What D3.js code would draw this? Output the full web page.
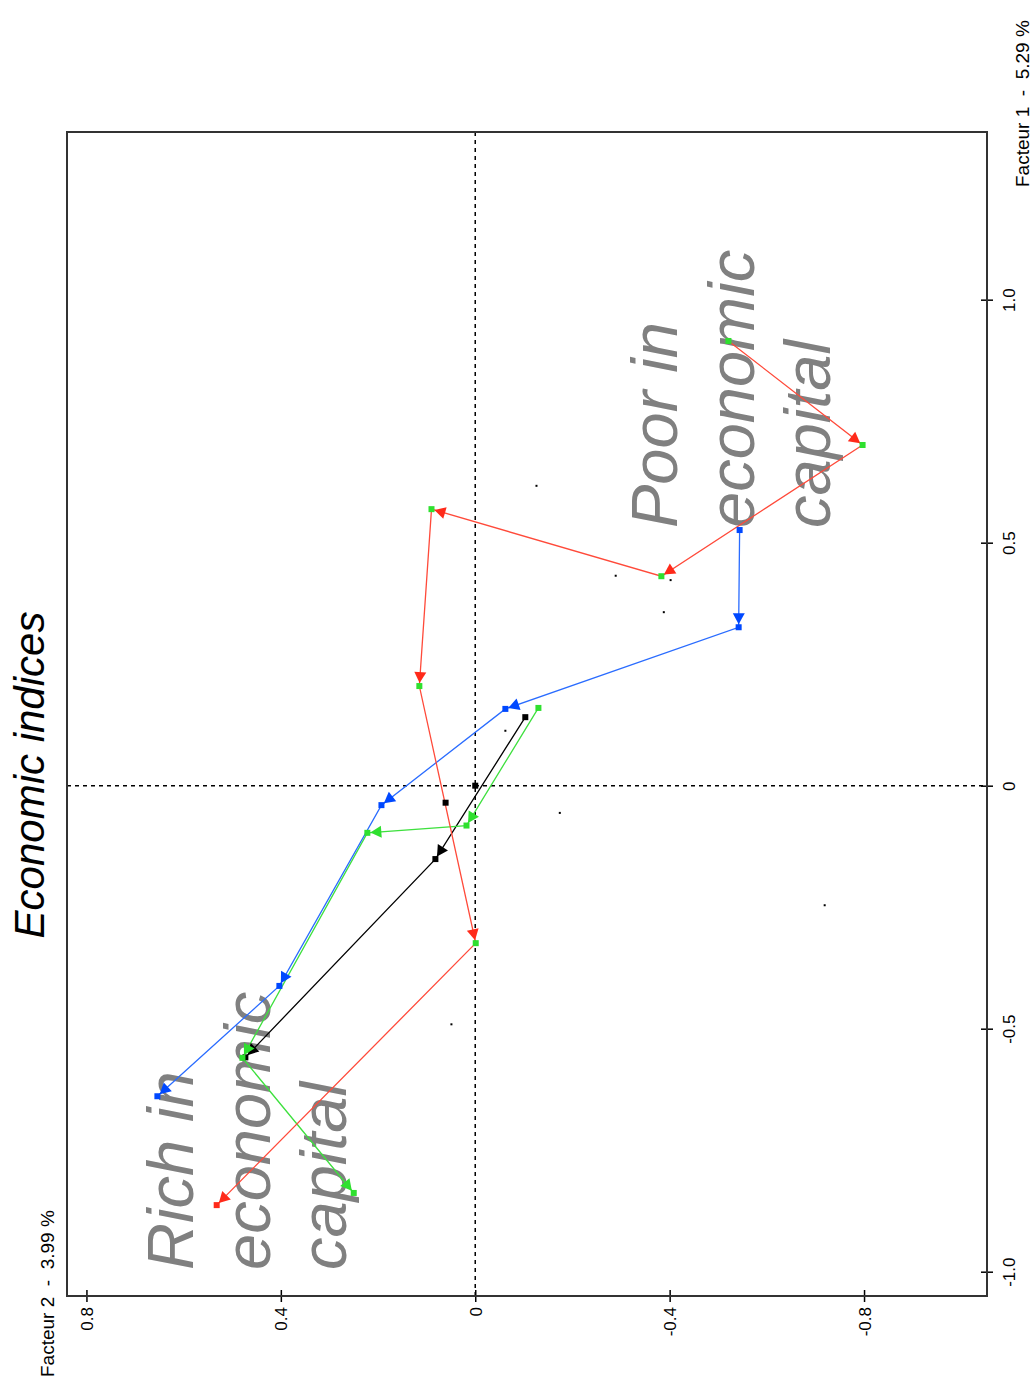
<!DOCTYPE html>
<html>
<head>
<meta charset="utf-8">
<script src="https://d3js.org/d3.v7.min.js"></script>
<style>
  body { margin: 0; background: #fff; }
  text { font-family: "Liberation Sans", Arial, sans-serif; }
  .tick text { font-size: 17px; fill: #000; }
  .note { font-size: 65px; font-style: italic; fill: #808080; }
</style>
</head>
<body>
<svg width="1032" height="1386"></svg>
<script>
// points are [Facteur 2, Facteur 1]
var redPath = [[-0.521, 0.915], [-0.797, 0.701], [-0.383, 0.431], [0.090, 0.569],
               [0.115, 0.205], [-0.001, -0.324], [0.532, -0.863]];
var greenPath = [[-0.130, 0.160], [0.018, -0.082], [0.222, -0.097], [0.479, -0.560], [0.250, -0.838]];
var bluePath = [[-0.544, 0.526], [-0.542, 0.326], [-0.062, 0.158], [0.193, -0.040],
                [0.403, -0.412], [0.654, -0.639]];
var blackPath = [[-0.103, 0.141], [0.082, -0.151], [0.473, -0.559]];
var blackPoints = [[0, 0], [0.061, -0.035]];
var smallDots = [[-0.062, 0.113], [-0.174, -0.056], [-0.126, 0.617], [-0.289, 0.432],
                 [-0.402, 0.423], [-0.388, 0.357], [-0.719, -0.246], [0.049, -0.491]];
var f2Ticks = [0.8, 0.4, 0, -0.4, -0.8];
var f1Ticks = [1.0, 0.5, 0, -0.5, -1.0];
var richLines = ["Rich in", "economic", "capital"];
var poorLines = ["Poor in", "economic", "capital"];

var svg = d3.select("svg");
var pLeft = 67, pRight = 987, pTop = 132, pBottom = 1296;

var x = d3.scaleLinear().domain([0.84, -1.053]).range([pLeft, pRight]);
var y = d3.scaleLinear().domain([1.345, -1.05]).range([pTop, pBottom]);

function fmt(d) { return d === 0 ? "0" : d.toFixed(1); }

// zero lines
svg.append("line").attr("x1", x(0)).attr("x2", x(0)).attr("y1", pTop).attr("y2", pBottom)
  .attr("stroke", "#000").attr("stroke-width", 1.5).attr("stroke-dasharray", "4,4");
svg.append("line").attr("x1", pLeft).attr("x2", pRight).attr("y1", y(0)).attr("y2", y(0))
  .attr("stroke", "#000").attr("stroke-width", 1.5).attr("stroke-dasharray", "4,4");

// bottom axis (Facteur 2)
var gx = svg.append("g").attr("transform", "translate(0," + pBottom + ")")
  .call(d3.axisBottom(x).tickValues(f2Ticks).tickFormat(fmt).tickSize(6));
gx.select(".domain").remove();
gx.selectAll(".tick line").attr("y1", -6).attr("y2", 6).attr("stroke", "#000").attr("stroke-width", 1.5);
gx.selectAll(".tick text").attr("y", null).attr("dy", null)
  .attr("text-anchor", "end")
  .attr("transform", "translate(6,11) rotate(-90)");

// right axis (Facteur 1)
var gy = svg.append("g").attr("transform", "translate(" + pRight + ",0)")
  .call(d3.axisRight(y).tickValues(f1Ticks).tickFormat(fmt).tickSize(6));
gy.select(".domain").remove();
gy.selectAll(".tick line").attr("x1", -6).attr("x2", 6).attr("stroke", "#000").attr("stroke-width", 1.5);
gy.selectAll(".tick text").attr("x", null).attr("dy", null)
  .attr("text-anchor", "middle")
  .attr("transform", "translate(28,0) rotate(-90)");

// frame
svg.append("rect").attr("x", pLeft).attr("y", pTop).attr("width", pRight - pLeft).attr("height", pBottom - pTop)
  .attr("fill", "none").attr("stroke", "#333").attr("stroke-width", 2);

// axis titles
svg.append("text").attr("transform", "translate(54,1377) rotate(-90)")
  .style("font-size", "19px").style("white-space", "pre")
  .text("Facteur 2  -  3.99 %");
svg.append("text").attr("transform", "translate(1029,187) rotate(-90)")
  .style("font-size", "19px").style("white-space", "pre")
  .text("Facteur 1  -  5.29 %");

// title
svg.append("text").attr("transform", "translate(44,775) rotate(-90)")
  .attr("text-anchor", "middle").style("font-size", "42px").style("font-style", "italic")
  .text("Economic indices");

// annotations
function note(lines, y0, baselines) {
  svg.selectAll(null).data(lines).enter().append("text")
    .attr("class", "note")
    .attr("transform", function(d, i) { return "translate(" + baselines[i] + "," + y0 + ") rotate(-90)"; })
    .text(function(d) { return d; });
}
note(richLines, 1270, [193, 270, 346]);
note(poorLines, 528, [677, 754, 830]);

// series
var line = d3.line().x(function(d) { return x(d[0]); }).y(function(d) { return y(d[1]); });

function arrows(pts, color) {
  for (var i = 1; i < pts.length; i++) {
    var x0 = x(pts[i - 1][0]), y0 = y(pts[i - 1][1]);
    var x1 = x(pts[i][0]), y1 = y(pts[i][1]);
    var len = Math.hypot(x1 - x0, y1 - y0), ux = (x1 - x0) / len, uy = (y1 - y0) / len;
    var tx = x1 - 3 * ux, ty = y1 - 3 * uy;
    var bx = x1 - 14 * ux, by = y1 - 14 * uy;
    var p = [[tx, ty], [bx - 6 * uy, by + 6 * ux], [bx + 6 * uy, by - 6 * ux]];
    svg.append("path").attr("d", "M" + p.join("L") + "Z").attr("fill", color);
  }
}

function squares(pts, colorFn, size) {
  svg.selectAll(null).data(pts).enter().append("rect")
    .attr("x", function(d) { return x(d[0]) - size / 2; })
    .attr("y", function(d) { return y(d[1]) - size / 2; })
    .attr("width", size).attr("height", size)
    .attr("fill", colorFn);
}

var series = [
  { pts: blackPath, color: "#000", marker: "#000" },
  { pts: greenPath, color: "#3ee03e", marker: "#2fe02f" },
  { pts: bluePath, color: "#2a6cff", marker: "#0048ff" },
  { pts: redPath, color: "#ff4a3a", marker: "#ff2a1a" }
];

series.forEach(function(s) {
  svg.append("path").datum(s.pts).attr("d", line)
    .attr("fill", "none").attr("stroke", s.color).attr("stroke-width", 1.3);
});
series.forEach(function(s) {
  arrows(s.pts, s.marker);
  var isRed = s.pts === redPath;
  squares(s.pts, function(d, i) {
    // red track vertices carry green squares, only its end is red
    if (isRed) return i === s.pts.length - 1 ? s.marker : "#2fe02f";
    return s.marker;
  }, 6);
});

squares(blackPoints, "#000", 6);
squares(smallDots, "#000", 2);
</script>
</body>
</html>
